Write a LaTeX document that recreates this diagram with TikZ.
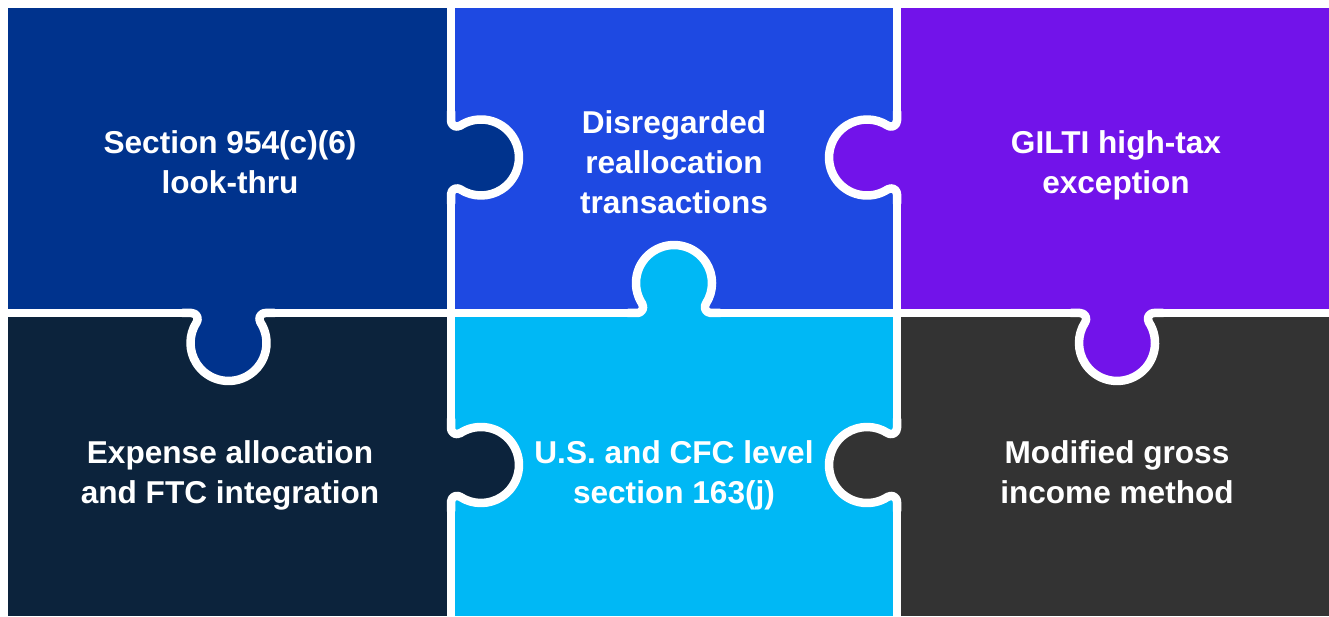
\documentclass[tikz,border=0pt]{standalone}
\usepackage{fontspec}
\setmainfont{Liberation Sans}
\definecolor{cA}{HTML}{00338D}
\definecolor{cB}{HTML}{1E49E2}
\definecolor{cC}{HTML}{7213EA}
\definecolor{cD}{HTML}{0C233C}
\definecolor{cE}{HTML}{00B8F5}
\definecolor{cF}{HTML}{333333}
\tikzset{
  gapline/.style={draw=white, line width=8.5pt, line cap=round, line join=round},
  label/.style={text=white, font=\fontsize{31.6}{40}\selectfont\bfseries, align=center, inner sep=0pt},
}
\newcommand\puzzletab[4]{%
  \begin{scope}[shift={(#1,#2)}, rotate=#3]
    \fill[#4] (-36.9,-7) -- (-36.9,0) arc[start angle=-90, end angle=33, radius=6]
      arc[start angle=213, end angle=-33, radius=38]
      arc[start angle=147, end angle=270, radius=6] -- (36.9,-7) -- cycle;
    \draw[gapline] (-46,0) -- (-36.9,0) arc[start angle=-90, end angle=33, radius=6]
      arc[start angle=213, end angle=-33, radius=38]
      arc[start angle=147, end angle=270, radius=6] -- (46,0);
  \end{scope}}
\begin{document}
\begin{tikzpicture}[x=1pt, y=1pt]
  \useasboundingbox (0,0) rectangle (1329,616);
  \fill[white] (0,0) rectangle (1329,616);
  % cells
  \fill[cA] (8,303) rectangle (451,608);
  \fill[cB] (451,303) rectangle (897,608);
  \fill[cC] (897,303) rectangle (1329,608);
  \fill[cD] (8,0) rectangle (451,303);
  \fill[cE] (451,0) rectangle (897,303);
  \fill[cF] (897,0) rectangle (1329,303);
  % grid gaps
  \coordinate (v1t) at (451,616); \coordinate (v1b) at (451,0);
  \coordinate (v2t) at (897,616); \coordinate (v2b) at (897,0);
  \coordinate (hl) at (0,303); \coordinate (hr) at (1329,303);
  \draw[gapline] (v1t) -- (v1b);
  \draw[gapline] (v2t) -- (v2b);
  \draw[gapline] (hl) -- (hr);
  % tabs
  \puzzletab{451}{458.5}{-90}{cA}
  \puzzletab{897}{458.5}{90}{cC}
  \puzzletab{674}{303}{0}{cE}
  \puzzletab{228.5}{303}{180}{cA}
  \puzzletab{1117}{303}{180}{cC}
  \puzzletab{451}{151}{-90}{cD}
  \puzzletab{897}{151}{90}{cF}
  % labels
  \node[label] (t1) at (230,450) {\strut Section 954(c)(6)\\\strut look-thru};
  \node[label] (t2) at (674,450) {\strut Disregarded\\\strut reallocation\\\strut transactions};
  \node[label] (t3) at (1116,450) {\strut GILTI high-tax\\\strut exception};
  \node[label] (t4) at (230,141) {\strut Expense allocation\\\strut and FTC integration};
  \node[label] (t5) at (674,141) {\strut U.S. and CFC level\\\strut section 163(j)};
  \node[label] (t6) at (1117,141) {\strut Modified gross\\\strut income method};
\end{tikzpicture}
\end{document}
